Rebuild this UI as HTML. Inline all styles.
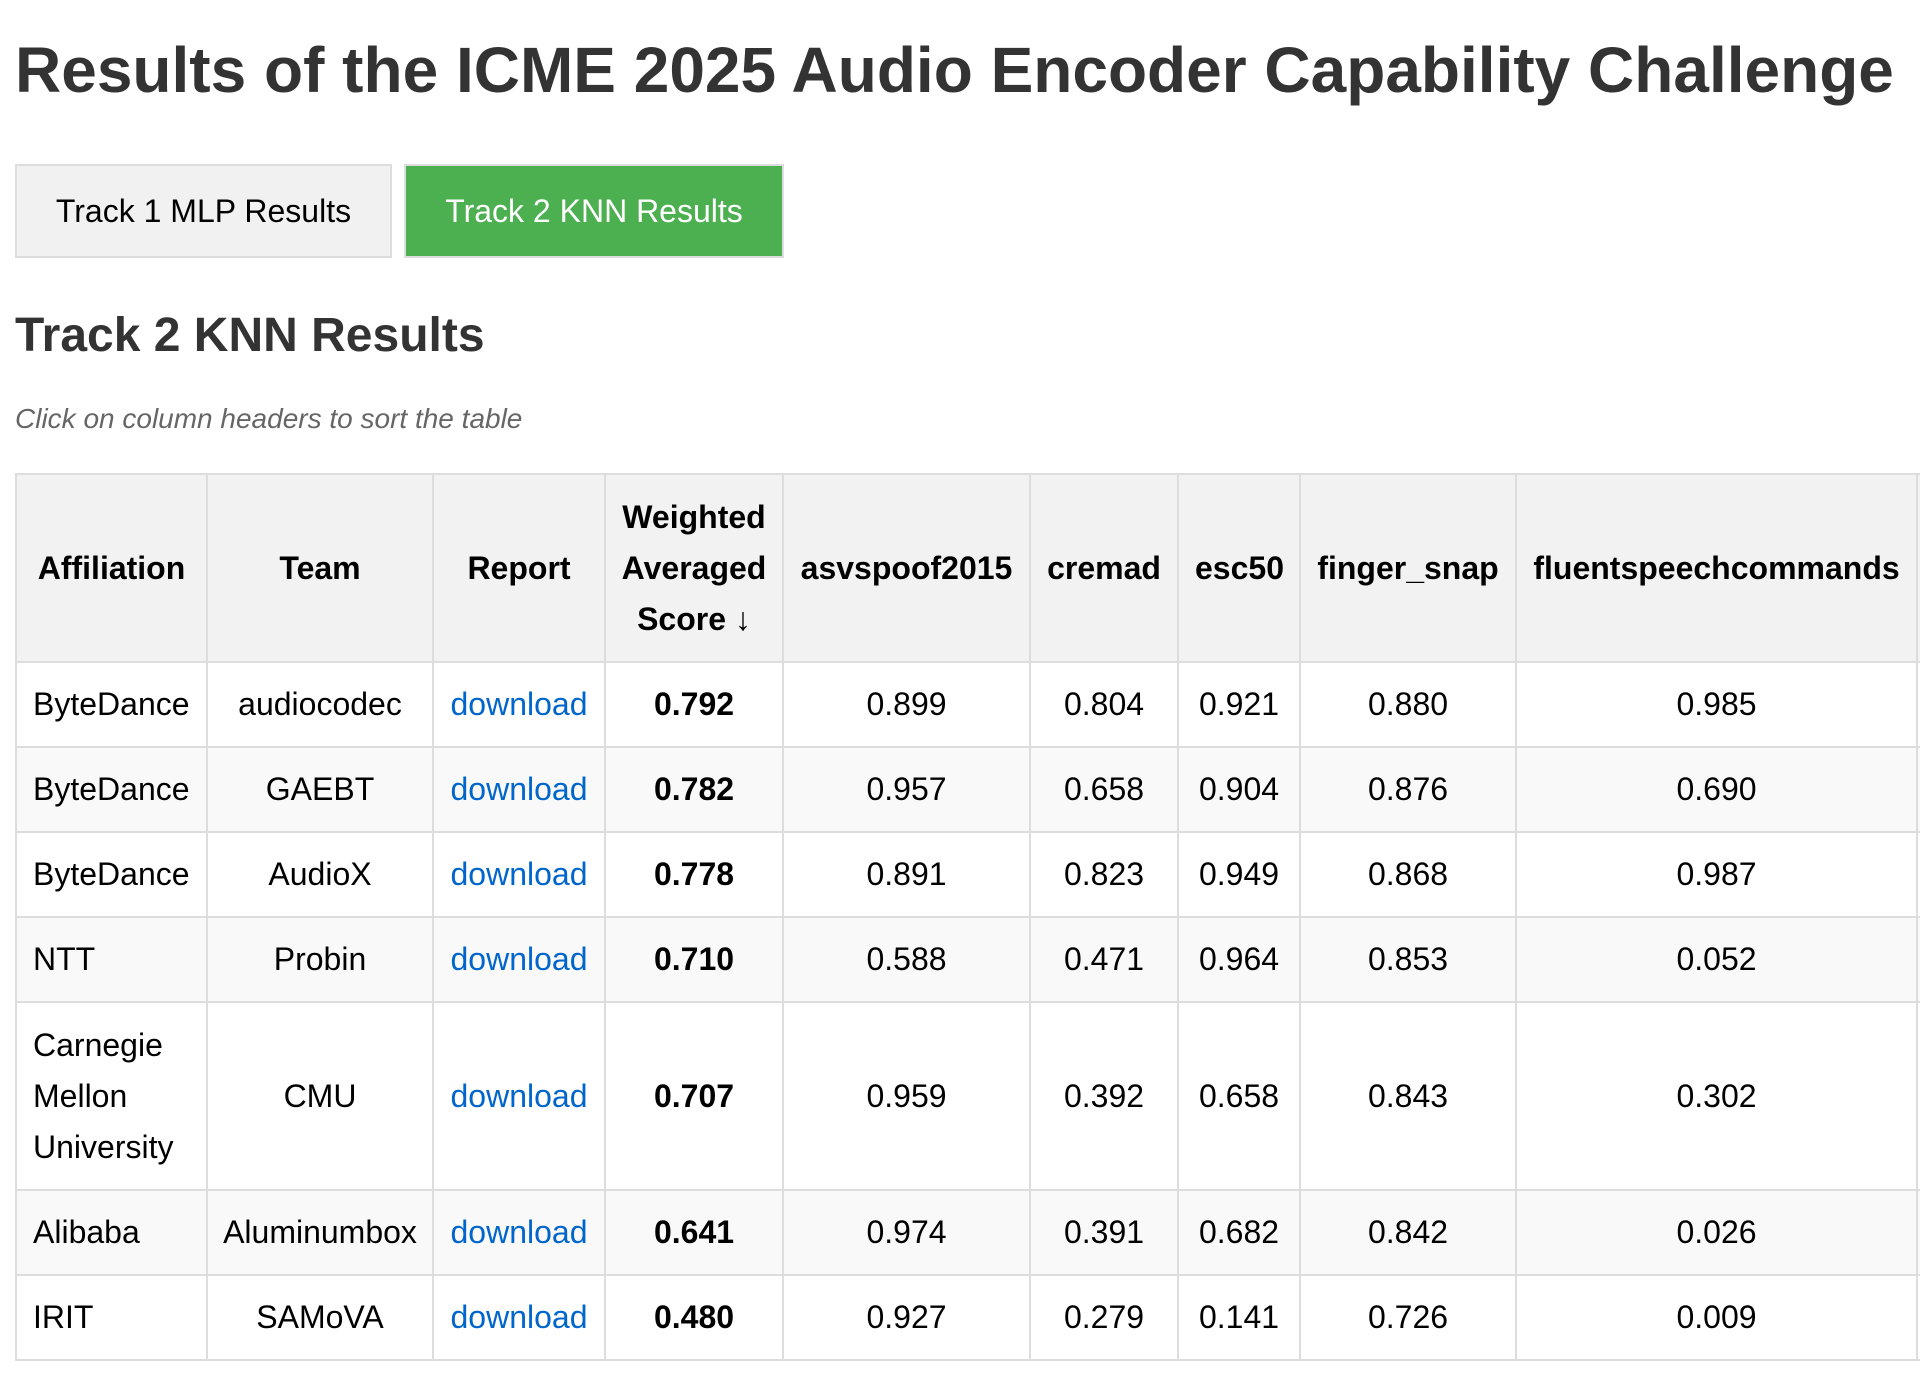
<!DOCTYPE html>
<html><head><meta charset="utf-8"><style>
html,body{margin:0;padding:0;background:#fff;width:1920px;height:1394px;overflow:hidden}
body{font-family:"Liberation Sans",Arial,sans-serif;color:#333;position:relative}
h1{position:absolute;left:15px;top:30px;margin:0;font-size:64px;line-height:80px;font-weight:bold;color:#333;white-space:nowrap}
.btn{position:absolute;top:164px;height:94px;box-sizing:border-box;border:2px solid #ddd;font-size:32px;line-height:90px;text-align:center;color:#000}
.b1{left:15px;width:377px;background:#f1f1f1}
.b2{left:404px;width:380px;background:#4caf50;color:#fff}
h2{position:absolute;left:15px;top:306px;margin:0;font-size:48px;line-height:60px;font-weight:bold;color:#333}
.note{position:absolute;left:15px;top:401px;font-size:28px;line-height:36px;font-style:italic;color:#666}
table{position:absolute;left:15px;top:473px;width:2101px;border-collapse:collapse;table-layout:fixed;font-size:32px;color:#000}
td,th{border:2px solid #ddd;padding:0 16px;text-align:center;line-height:51px;vertical-align:middle;overflow:hidden;white-space:normal}
th{background:#f2f2f2;font-weight:bold}
td.l{text-align:left}
tr.e td{background:#f9f9f9}
a{color:#0066cc;text-decoration:none}
td b{font-weight:bold}
</style></head><body>
<h1>Results of the ICME 2025 Audio Encoder Capability Challenge</h1>
<div class="btn b1">Track 1 MLP Results</div>
<div class="btn b2">Track 2 KNN Results</div>
<h2>Track 2 KNN Results</h2>
<div class="note">Click on column headers to sort the table</div>
<table>
<colgroup><col style="width:191px"><col style="width:226px"><col style="width:172px"><col style="width:178px"><col style="width:247px"><col style="width:148px"><col style="width:122px"><col style="width:216px"><col style="width:401px"><col style="width:200px"></colgroup>
<tr style="height:188px"><th>Affiliation</th><th>Team</th><th>Report</th><th style="padding:0 8px">Weighted Averaged Score ↓</th><th style="padding:0 8px">asvspoof2015</th><th>cremad</th><th>esc50</th><th style="padding:0 8px">finger_snap</th><th style="padding:0 8px">fluentspeechcommands</th><th></th></tr>
<tr style="height:85px"><td class="l">ByteDance</td><td>audiocodec</td><td><a>download</a></td><td><b>0.792</b></td><td>0.899</td><td>0.804</td><td>0.921</td><td>0.880</td><td>0.985</td><td></td></tr>
<tr class="e" style="height:85px"><td class="l">ByteDance</td><td>GAEBT</td><td><a>download</a></td><td><b>0.782</b></td><td>0.957</td><td>0.658</td><td>0.904</td><td>0.876</td><td>0.690</td><td></td></tr>
<tr style="height:85px"><td class="l">ByteDance</td><td>AudioX</td><td><a>download</a></td><td><b>0.778</b></td><td>0.891</td><td>0.823</td><td>0.949</td><td>0.868</td><td>0.987</td><td></td></tr>
<tr class="e" style="height:85px"><td class="l">NTT</td><td>Probin</td><td><a>download</a></td><td><b>0.710</b></td><td>0.588</td><td>0.471</td><td>0.964</td><td>0.853</td><td>0.052</td><td></td></tr>
<tr style="height:188px"><td class="l">Carnegie Mellon University</td><td>CMU</td><td><a>download</a></td><td><b>0.707</b></td><td>0.959</td><td>0.392</td><td>0.658</td><td>0.843</td><td>0.302</td><td></td></tr>
<tr class="e" style="height:85px"><td class="l">Alibaba</td><td style="padding:0 4px">Aluminumbox</td><td><a>download</a></td><td><b>0.641</b></td><td>0.974</td><td>0.391</td><td>0.682</td><td>0.842</td><td>0.026</td><td></td></tr>
<tr style="height:85px"><td class="l">IRIT</td><td>SAMoVA</td><td><a>download</a></td><td><b>0.480</b></td><td>0.927</td><td>0.279</td><td>0.141</td><td>0.726</td><td>0.009</td><td></td></tr>
</table>
</body></html>
